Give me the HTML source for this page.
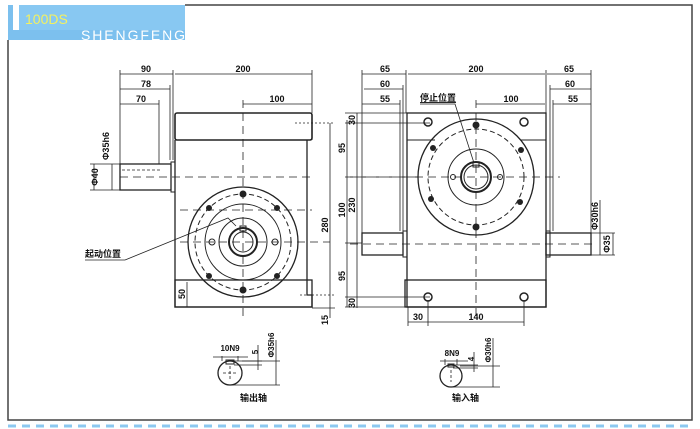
<!DOCTYPE html>
<html><head><meta charset="utf-8"><style>
html,body{margin:0;padding:0;background:#fff;}
svg{display:block;}
text{font-family:"Liberation Sans","Noto Sans CJK SC",sans-serif;font-weight:bold;fill:#111;}
</style></head><body>
<svg width="700" height="429" viewBox="0 0 700 429" xmlns="http://www.w3.org/2000/svg">
<rect x="0" y="0" width="700" height="429" fill="#fff"/>
<!-- frame -->
<polyline points="8,40 8,420 692,420 692,5 185,5" fill="none" stroke="#444" stroke-width="1.5"/>
<line x1="8" y1="426" x2="692" y2="426" stroke="#8cc8f0" stroke-width="3" stroke-dasharray="8,6"/>
<!-- header -->
<rect x="8" y="5" width="177" height="35" fill="#7cc0ee"/>
<rect x="13" y="5" width="6" height="25" fill="#fff"/>
<rect x="19" y="5" width="166" height="25" fill="#88c8f2"/>
<text x="25" y="24" font-size="14" style="fill:#f4f060;font-weight:normal">100DS</text>
<text x="81" y="40" font-size="14" style="fill:#fff;font-weight:normal" textLength="104">SHENGFENG</text>

<g stroke="#222" fill="none" stroke-width="1">
<!-- LEFT VIEW -->
<rect x="175" y="113" width="137" height="27" rx="2" stroke-width="1.6"/>
<polyline points="175,140 175,307 312,307 312,295 307,295 307,140" stroke-width="1.3"/>
<line x1="312" y1="140" x2="312" y2="133"/>
<rect x="175" y="280" width="137" height="27" stroke-width="1.3"/>
<rect x="120" y="164" width="51" height="26" stroke-width="1.3"/>
<rect x="171" y="162" width="4" height="30"/>
<circle cx="243" cy="242" r="55" stroke-width="1.3"/>
<circle cx="243" cy="242" r="48" stroke-dasharray="5,3"/>
<circle cx="243" cy="242" r="38"/>
<circle cx="243" cy="242" r="24"/>
<circle cx="243" cy="242" r="14" stroke-width="2"/>
<circle cx="243" cy="242" r="10"/>
<g stroke-dasharray="8,5" stroke-width="0.8">
<line x1="243" y1="100" x2="243" y2="320"/>
<line x1="180" y1="242" x2="330" y2="242"/>
<line x1="180" y1="210" x2="312" y2="210"/>
<line x1="120" y1="177" x2="312" y2="177"/>
<line x1="122" y1="170" x2="160" y2="170" stroke-dasharray="3,2"/>
</g>
<!-- left dims -->
<g stroke-width="0.8">
<line x1="120" y1="70" x2="120" y2="190"/>
<line x1="173" y1="70" x2="173" y2="160"/>
<line x1="170" y1="85" x2="170" y2="160"/>
<line x1="159" y1="100" x2="159" y2="164"/>
<line x1="312" y1="70" x2="312" y2="113"/>
<line x1="120" y1="74" x2="173" y2="74"/><line x1="175" y1="74" x2="312" y2="74"/>
<line x1="120" y1="89" x2="170" y2="89"/><line x1="120" y1="104" x2="159" y2="104"/>
<line x1="243" y1="104" x2="312" y2="104"/>
<line x1="90" y1="164" x2="120" y2="164"/><line x1="90" y1="190" x2="120" y2="190"/>
<line x1="94" y1="164" x2="94" y2="190"/><line x1="112" y1="164" x2="112" y2="190"/>
<line x1="295" y1="123" x2="335" y2="123" stroke-dasharray="2,2"/>
<line x1="300" y1="295" x2="335" y2="295" stroke-dasharray="2,2"/>
<line x1="312" y1="308" x2="335" y2="308"/>
<line x1="330" y1="123" x2="330" y2="318"/>
<line x1="347" y1="120" x2="347" y2="307"/>
<line x1="357" y1="113" x2="357" y2="308"/>
<line x1="345" y1="113" x2="407" y2="113"/>
<line x1="345" y1="123" x2="430" y2="123"/>
<line x1="345" y1="297" x2="430" y2="297"/>
<line x1="345" y1="307" x2="407" y2="307"/>
<line x1="345" y1="177" x2="420" y2="177" stroke-dasharray="8,5"/>
<line x1="345" y1="243" x2="362" y2="243"/>
<line x1="187" y1="282" x2="187" y2="307"/>
<!-- label leader -->
<polyline points="85,260 125,260 228,218 236,226"/>
</g>
<!-- left bolt holes -->
<g fill="#222" stroke="none">
<circle cx="243" cy="194" r="3.5"/><circle cx="243" cy="290" r="3.5"/>
<circle cx="209" cy="208" r="3"/><circle cx="277" cy="208" r="3"/>
<circle cx="209" cy="276" r="3"/><circle cx="277" cy="276" r="3"/>
</g>
<circle cx="212" cy="242" r="3"/><circle cx="275" cy="242" r="3"/>
<rect x="240" y="226" width="6" height="5"/>

<!-- RIGHT VIEW -->
<rect x="407" y="113" width="139" height="194" stroke-width="1.3"/>
<line x1="407" y1="140" x2="435" y2="140"/><line x1="520" y1="140" x2="546" y2="140"/>
<rect x="405" y="280" width="141" height="27" stroke-width="1.3"/>
<rect x="362" y="233" width="41" height="22" stroke-width="1.3"/>
<rect x="403" y="231" width="4" height="26"/>
<rect x="546" y="233" width="45" height="22" stroke-width="1.3"/>
<rect x="546" y="231" width="4" height="26"/>
<circle cx="476" cy="177" r="58" stroke-width="1.3"/>
<circle cx="476" cy="177" r="48" stroke-dasharray="5,3"/>
<circle cx="476" cy="177" r="28"/>
<circle cx="476" cy="177" r="15" stroke-width="2"/>
<circle cx="476" cy="177" r="12"/>
<rect x="473" y="162" width="6" height="5"/>
<circle cx="453" cy="177" r="2.5"/><circle cx="500" cy="177" r="2.5"/>
<g stroke-dasharray="8,5" stroke-width="0.8">
<line x1="476" y1="100" x2="476" y2="320"/>
<line x1="350" y1="177" x2="560" y2="177"/>
<line x1="350" y1="244" x2="595" y2="244"/>
</g>
<g stroke-width="0.8">
<line x1="362" y1="70" x2="362" y2="233"/>
<line x1="406" y1="70" x2="406" y2="113"/>
<line x1="403" y1="85" x2="403" y2="231"/>
<line x1="400" y1="100" x2="400" y2="231"/>
<line x1="546" y1="70" x2="546" y2="113"/>
<line x1="550" y1="85" x2="550" y2="231"/>
<line x1="553" y1="100" x2="553" y2="231"/>
<line x1="591" y1="70" x2="591" y2="233"/>
<line x1="362" y1="74" x2="406" y2="74"/><line x1="408" y1="74" x2="545" y2="74"/><line x1="547" y1="74" x2="591" y2="74"/>
<line x1="364" y1="89" x2="403" y2="89"/><line x1="550" y1="89" x2="591" y2="89"/>
<line x1="362" y1="104" x2="400" y2="104"/><line x1="553" y1="104" x2="591" y2="104"/>
<line x1="476" y1="104" x2="545" y2="104"/>
<line x1="591" y1="233" x2="615" y2="233"/><line x1="591" y1="255" x2="615" y2="255"/>
<line x1="600" y1="200" x2="600" y2="255"/><line x1="613" y1="233" x2="613" y2="255"/>
<line x1="408" y1="307" x2="408" y2="326"/><line x1="428" y1="300" x2="428" y2="326"/><line x1="524" y1="300" x2="524" y2="326"/>
<line x1="408" y1="322" x2="428" y2="322"/><line x1="428" y1="322" x2="524" y2="322"/>
<polyline points="420,104 455,104 474,163"/>
</g>
<g fill="#222" stroke="none">
<circle cx="476" cy="125" r="3.5"/><circle cx="476" cy="227" r="3.5"/>
<circle cx="433" cy="148" r="3"/><circle cx="521" cy="150" r="3"/>
<circle cx="431" cy="199" r="3"/><circle cx="520" cy="202" r="3"/>
</g>
<g stroke-width="1.5">
<circle cx="428" cy="122" r="4"/><circle cx="524" cy="122" r="4"/>
<circle cx="428" cy="297" r="4"/><circle cx="524" cy="297" r="4"/>
</g>

<!-- shaft sections -->
<circle cx="230" cy="373" r="12" stroke-width="1.3"/>
<rect x="226" y="360" width="8" height="4"/>
<g stroke-width="0.8">
<line x1="222" y1="356" x2="222" y2="361"/><line x1="238" y1="356" x2="238" y2="361"/>
<line x1="213" y1="357" x2="248" y2="357"/>
<line x1="232" y1="361" x2="262" y2="361"/><line x1="234" y1="365" x2="262" y2="365"/>
<line x1="258" y1="345" x2="258" y2="370"/>
<line x1="242" y1="361" x2="280" y2="361"/><line x1="232" y1="385" x2="280" y2="385"/>
<line x1="276" y1="340" x2="276" y2="385"/>
<line x1="230" y1="366" x2="230" y2="380" stroke-dasharray="3,2"/><line x1="223" y1="373" x2="237" y2="373" stroke-dasharray="3,2"/>
</g>
<circle cx="451" cy="376" r="11" stroke-width="1.3"/>
<rect x="448" y="364" width="6" height="3"/>
<g stroke-width="0.8">
<line x1="440" y1="361" x2="468" y2="361"/>
<line x1="445" y1="359" x2="445" y2="365"/><line x1="457" y1="359" x2="457" y2="365"/>
<line x1="452" y1="365" x2="478" y2="365"/><line x1="453" y1="368" x2="478" y2="368"/>
<line x1="474" y1="352" x2="474" y2="372"/>
<line x1="460" y1="366" x2="500" y2="366"/><line x1="452" y1="387" x2="500" y2="387"/>
<line x1="493" y1="338" x2="493" y2="387"/>
<line x1="451" y1="370" x2="451" y2="382" stroke-dasharray="3,2"/>
</g>
</g>

<!-- texts -->
<g font-size="9" text-anchor="middle">
<text x="146" y="72">90</text><text x="243" y="72">200</text>
<text x="146" y="87">78</text><text x="141" y="102">70</text>
<text x="277" y="102">100</text>
<text x="385" y="72">65</text><text x="476" y="72">200</text><text x="569" y="72">65</text>
<text x="385" y="87">60</text><text x="570" y="87">60</text>
<text x="385" y="102">55</text><text x="573" y="102">55</text>
<text x="511" y="102">100</text>
<text x="418" y="320">30</text><text x="476" y="320">140</text>
<text x="230" y="351" font-size="8">10N9</text>
<text x="452" y="356" font-size="8">8N9</text>
</g>
<g font-size="9" text-anchor="middle">
<text transform="translate(98,177) rotate(-90)" dy="0">Φ40</text>
<text transform="translate(109,146) rotate(-90)">Φ35h6</text>
<text transform="translate(328,225) rotate(-90)">280</text>
<text transform="translate(328,320) rotate(-90)">15</text>
<text transform="translate(345,148) rotate(-90)">95</text>
<text transform="translate(345,210) rotate(-90)">100</text>
<text transform="translate(345,276) rotate(-90)">95</text>
<text transform="translate(355,120) rotate(-90)">30</text>
<text transform="translate(355,205) rotate(-90)">230</text>
<text transform="translate(355,303) rotate(-90)">30</text>
<text transform="translate(185,294) rotate(-90)">50</text>
<text transform="translate(598,216) rotate(-90)">Φ30h6</text>
<text transform="translate(610,244) rotate(-90)">Φ35</text>
<text transform="translate(258,352) rotate(-90)" font-size="8">5</text>
<text transform="translate(274,345) rotate(-90)" font-size="8">Φ35h6</text>
<text transform="translate(474,359) rotate(-90)" font-size="8">4</text>
<text transform="translate(491,350) rotate(-90)" font-size="8">Φ30h6</text>
</g>
<g font-size="9">
<text x="85" y="257">起动位置</text>
<text x="420" y="101" style="text-decoration:underline">停止位置</text>
<text x="240" y="401">输出轴</text>
<text x="452" y="401">输入轴</text>
</g>
</svg>
</body></html>
